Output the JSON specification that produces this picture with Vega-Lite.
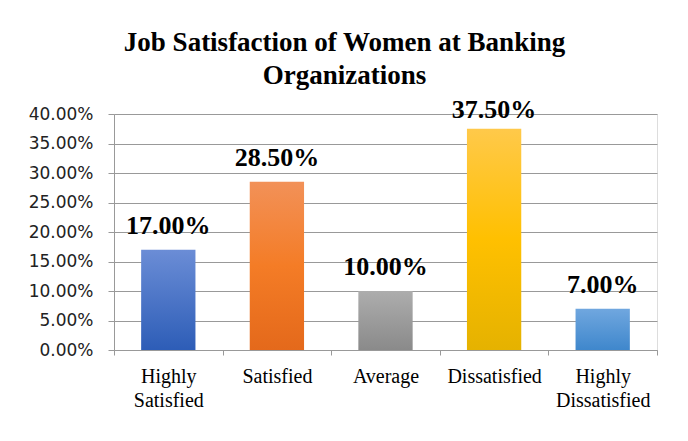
{
  "$schema": "https://vega.github.io/schema/vega-lite/v6.json",
  "width": 543,
  "height": 236,
  "autosize": {"type": "none"},
  "padding": {"left": 114, "top": 114, "right": 31, "bottom": 91},
  "background": "white",
  "title": {
    "text": ["Job Satisfaction of Women at Banking", "Organizations"],
    "font": "Liberation Serif",
    "fontSize": 27,
    "fontWeight": "bold",
    "color": "#000000",
    "lineHeight": 33,
    "anchor": "middle",
    "dx": -41,
    "offset": 7
  },
  "data": {
    "values": [
      {"level": "Highly Satisfied", "share": 0.17},
      {"level": "Satisfied", "share": 0.285},
      {"level": "Average", "share": 0.10},
      {"level": "Dissatisfied", "share": 0.375},
      {"level": "Highly Dissatisfied", "share": 0.07}
    ]
  },
  "encoding": {
    "x": {
      "field": "level",
      "type": "nominal",
      "sort": ["Highly Satisfied", "Satisfied", "Average", "Dissatisfied", "Highly Dissatisfied"],
      "scale": {"paddingInner": 0, "paddingOuter": 0},
      "axis": {
        "title": null,
        "labelAngle": 0,
        "labelExpr": "split(datum.label, ' ')",
        "labelFont": "Liberation Serif",
        "labelFontSize": 20,
        "labelColor": "#000000",
        "labelLineHeight": 24,
        "labelPadding": 11,
        "tickBand": "extent",
        "tickSize": 5,
        "tickColor": "#999999",
        "domainColor": "#999999",
        "grid": false
      }
    },
    "y": {
      "field": "share",
      "type": "quantitative",
      "scale": {"domain": [0, 0.4]},
      "axis": {
        "title": null,
        "values": [0, 0.05, 0.1, 0.15, 0.2, 0.25, 0.3, 0.35, 0.4],
        "format": ".2%",
        "labelFont": "DejaVu Sans",
        "labelFontSize": 17,
        "labelColor": "#222222",
        "labelPadding": 15,
        "tickSize": 6,
        "tickColor": "#999999",
        "domainColor": "#999999",
        "grid": true,
        "gridColor": "#999999"
      }
    }
  },
  "layer": [
    {
      "transform": [{"filter": "datum.level === 'Highly Satisfied'"}],
      "mark": {"type": "bar", "width": {"band": 0.5},
        "color": {"gradient": "linear", "x1": 0, "y1": 0, "x2": 0, "y2": 1,
          "stops": [{"offset": 0, "color": "#6b8dd6"}, {"offset": 1, "color": "#2d5db7"}]}}
    },
    {
      "transform": [{"filter": "datum.level === 'Satisfied'"}],
      "mark": {"type": "bar", "width": {"band": 0.5},
        "color": {"gradient": "linear", "x1": 0, "y1": 0, "x2": 0, "y2": 1,
          "stops": [{"offset": 0, "color": "#f29158"}, {"offset": 0.5, "color": "#f47c26"}, {"offset": 1, "color": "#e4691b"}]}}
    },
    {
      "transform": [{"filter": "datum.level === 'Average'"}],
      "mark": {"type": "bar", "width": {"band": 0.5},
        "color": {"gradient": "linear", "x1": 0, "y1": 0, "x2": 0, "y2": 1,
          "stops": [{"offset": 0, "color": "#adadad"}, {"offset": 1, "color": "#8a8a8a"}]}}
    },
    {
      "transform": [{"filter": "datum.level === 'Dissatisfied'"}],
      "mark": {"type": "bar", "width": {"band": 0.5},
        "color": {"gradient": "linear", "x1": 0, "y1": 0, "x2": 0, "y2": 1,
          "stops": [{"offset": 0, "color": "#ffc94a"}, {"offset": 0.5, "color": "#ffc000"}, {"offset": 1, "color": "#e5b200"}]}}
    },
    {
      "transform": [{"filter": "datum.level === 'Highly Dissatisfied'"}],
      "mark": {"type": "bar", "width": {"band": 0.5},
        "color": {"gradient": "linear", "x1": 0, "y1": 0, "x2": 0, "y2": 1,
          "stops": [{"offset": 0, "color": "#70a7df"}, {"offset": 1, "color": "#3f87cc"}]}}
    },
    {
      "transform": [{"filter": "datum.level !== 'Dissatisfied'"}],
      "mark": {"type": "text", "font": "Liberation Serif", "fontSize": 26, "fontWeight": "bold", "color": "#000000", "baseline": "alphabetic", "dy": -16},
      "encoding": {"text": {"field": "share", "type": "quantitative", "format": ".2%"}}
    },
    {
      "transform": [{"filter": "datum.level === 'Dissatisfied'"}],
      "mark": {"type": "text", "font": "Liberation Serif", "fontSize": 26, "fontWeight": "bold", "color": "#000000", "baseline": "alphabetic", "dy": -11},
      "encoding": {"text": {"field": "share", "type": "quantitative", "format": ".2%"}}
    }
  ]
}
